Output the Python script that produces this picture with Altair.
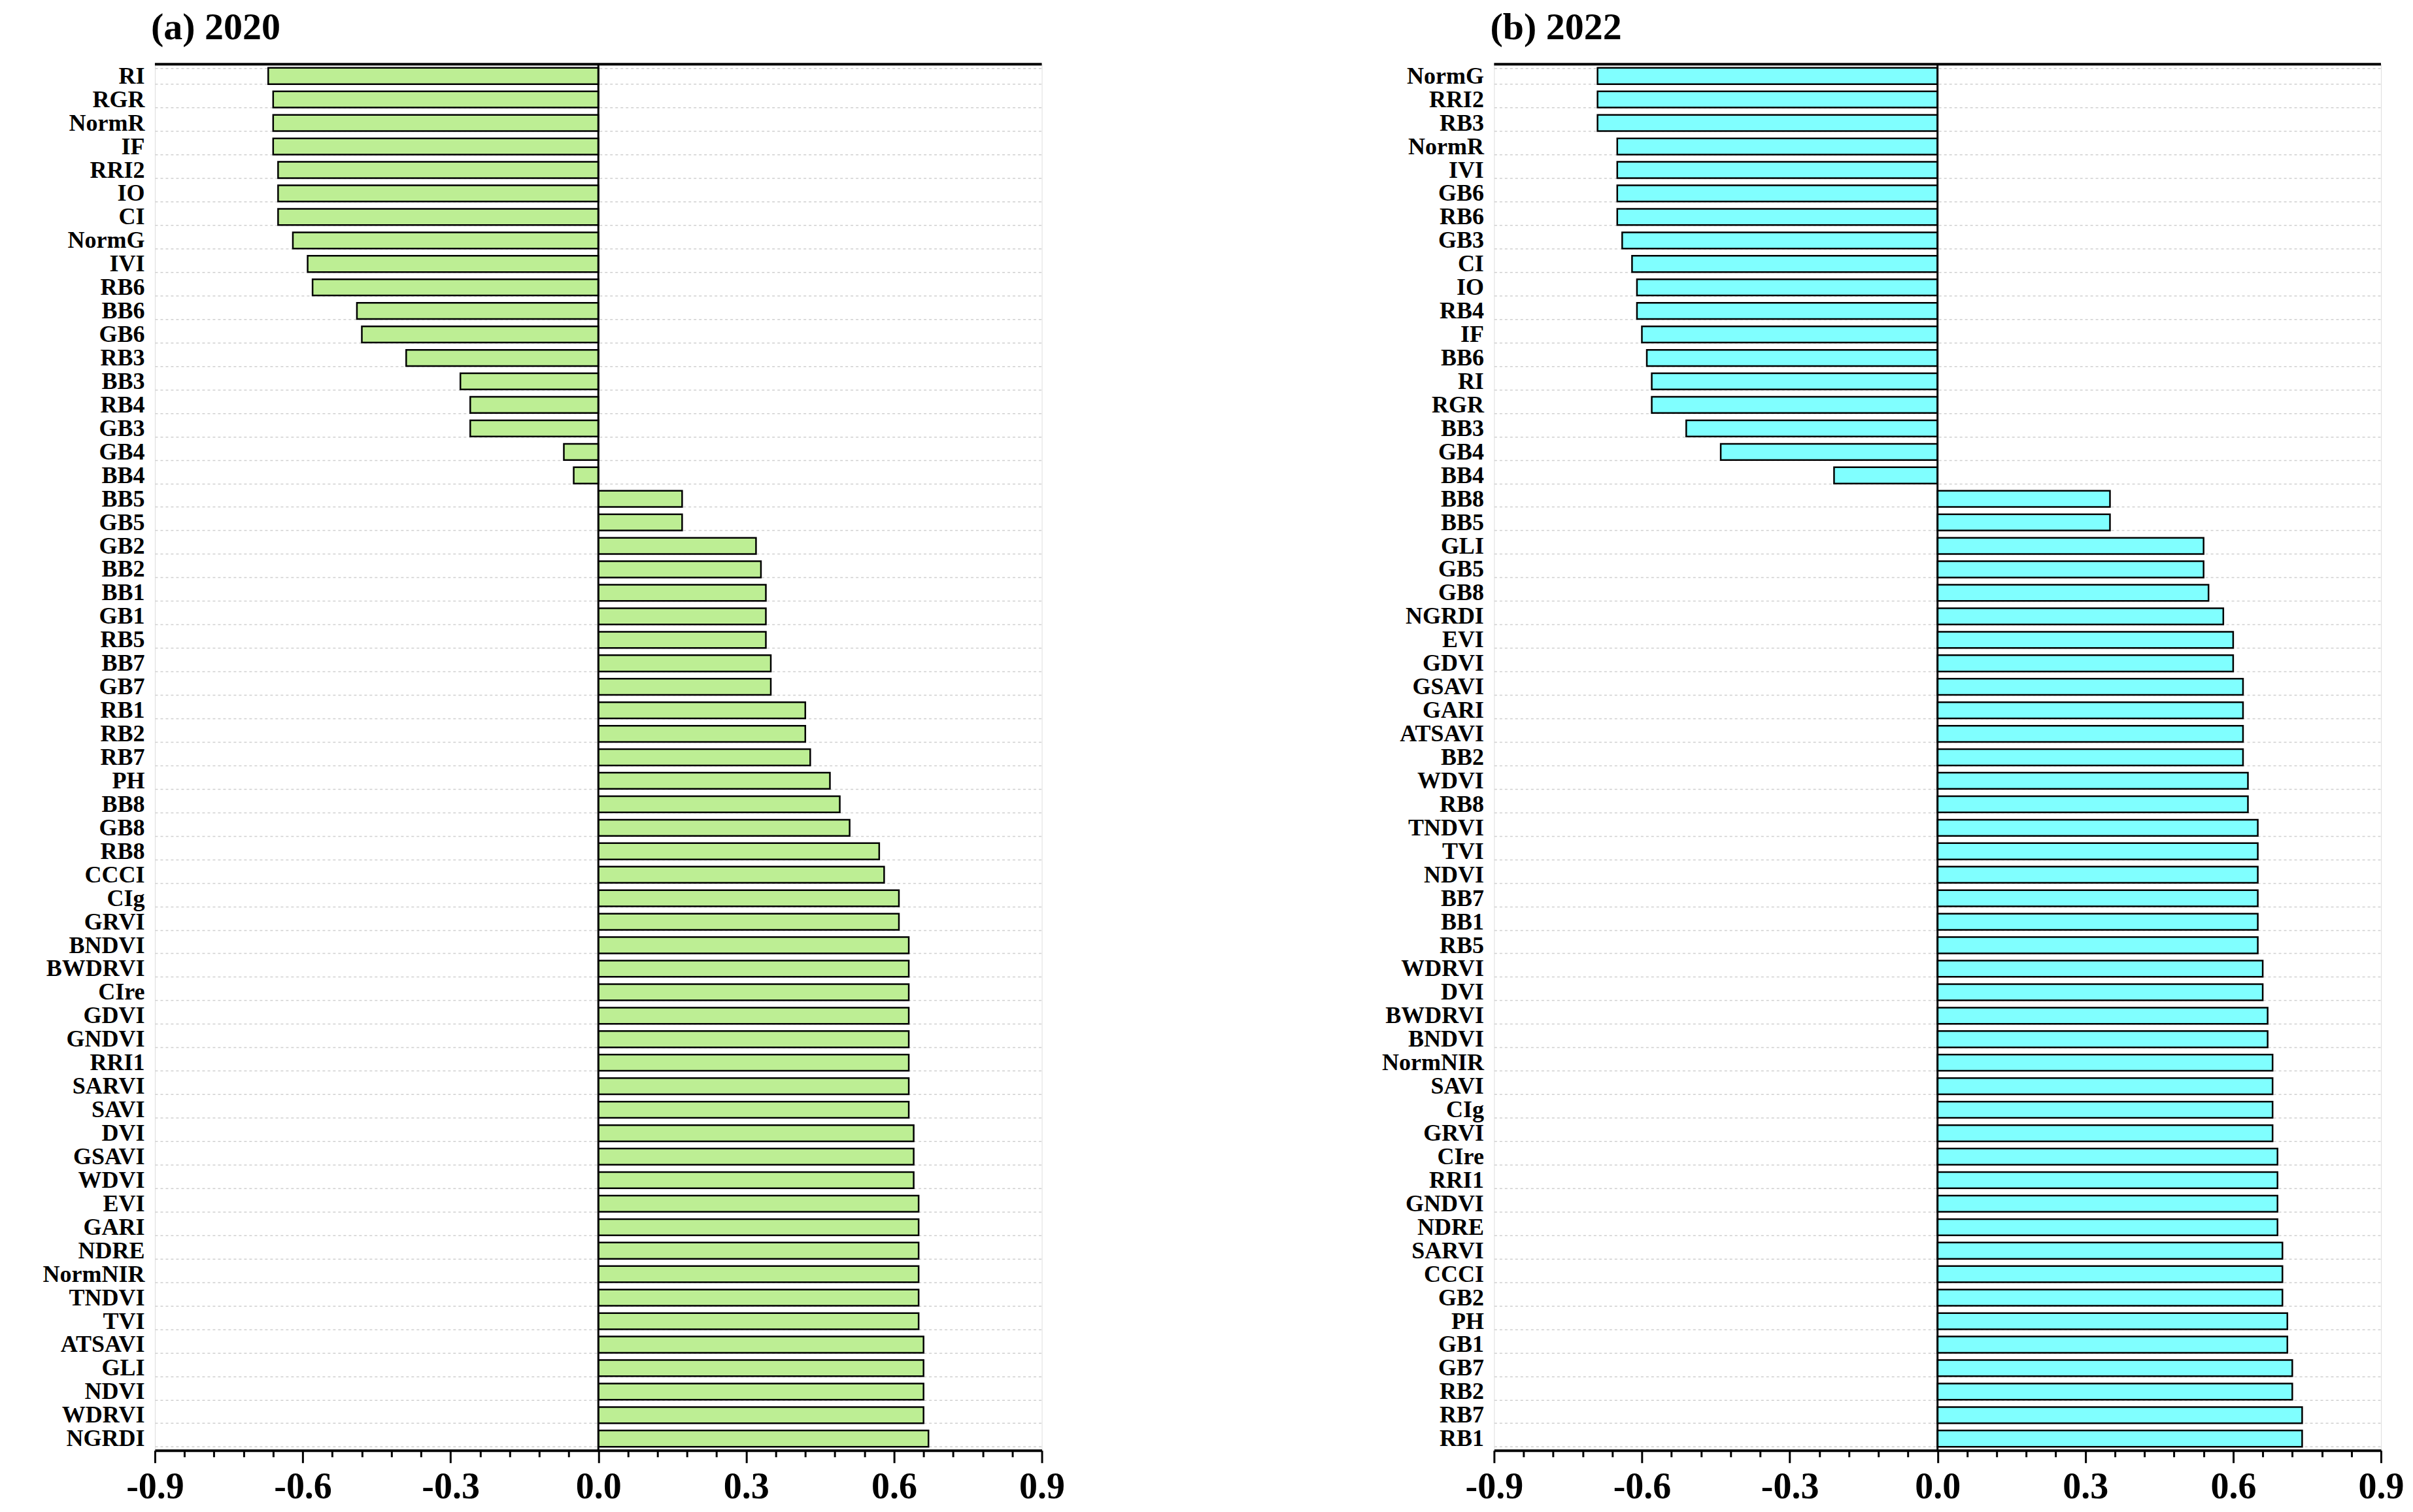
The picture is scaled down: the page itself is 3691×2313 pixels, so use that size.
import altair as alt
import pandas as pd

# ---- data (a) 2020 ----
names_2020 = ["RI", "RGR", "NormR", "IF", "RRI2", "IO", "CI", "NormG", "IVI", "RB6",
              "BB6", "GB6", "RB3", "BB3", "RB4", "GB3", "GB4", "BB4",
              "BB5", "GB5", "GB2", "BB2", "BB1", "GB1", "RB5", "BB7", "GB7", "RB1",
              "RB2", "RB7", "PH", "BB8", "GB8", "RB8", "CCCI", "CIg", "GRVI", "BNDVI",
              "BWDRVI", "CIre", "GDVI", "GNDVI", "RRI1", "SARVI", "SAVI", "DVI", "GSAVI", "WDVI",
              "EVI", "GARI", "NDRE", "NormNIR", "TNDVI", "TVI", "ATSAVI", "GLI", "NDVI", "WDRVI",
              "NGRDI"]
values_2020 = [-0.67, -0.66, -0.66, -0.66, -0.65, -0.65, -0.65, -0.62, -0.59, -0.58,
               -0.49, -0.48, -0.39, -0.28, -0.26, -0.26, -0.07, -0.05,
               0.17, 0.17, 0.32, 0.33, 0.34, 0.34, 0.34, 0.35, 0.35, 0.42,
               0.42, 0.43, 0.47, 0.49, 0.51, 0.57, 0.58, 0.61, 0.61, 0.63,
               0.63, 0.63, 0.63, 0.63, 0.63, 0.63, 0.63, 0.64, 0.64, 0.64,
               0.65, 0.65, 0.65, 0.65, 0.65, 0.65, 0.66, 0.66, 0.66, 0.66,
               0.67]

# ---- data (b) 2022 ----
names_2022 = ["NormG", "RRI2", "RB3", "NormR", "IVI", "GB6", "RB6", "GB3", "CI", "IO",
              "RB4", "IF", "BB6", "RI", "RGR", "BB3", "GB4", "BB4",
              "BB8", "BB5", "GLI", "GB5", "GB8", "NGRDI", "EVI", "GDVI", "GSAVI", "GARI",
              "ATSAVI", "BB2", "WDVI", "RB8", "TNDVI", "TVI", "NDVI", "BB7", "BB1", "RB5",
              "WDRVI", "DVI", "BWDRVI", "BNDVI", "NormNIR", "SAVI", "CIg", "GRVI", "CIre", "RRI1",
              "GNDVI", "NDRE", "SARVI", "CCCI", "GB2", "PH", "GB1", "GB7", "RB2", "RB7",
              "RB1"]
values_2022 = [-0.69, -0.69, -0.69, -0.65, -0.65, -0.65, -0.65, -0.64, -0.62, -0.61,
               -0.61, -0.60, -0.59, -0.58, -0.58, -0.51, -0.44, -0.21,
               0.35, 0.35, 0.54, 0.54, 0.55, 0.58, 0.60, 0.60, 0.62, 0.62,
               0.62, 0.62, 0.63, 0.63, 0.65, 0.65, 0.65, 0.65, 0.65, 0.65,
               0.66, 0.66, 0.67, 0.67, 0.68, 0.68, 0.68, 0.68, 0.69, 0.69,
               0.69, 0.69, 0.70, 0.70, 0.70, 0.71, 0.71, 0.72, 0.72, 0.74,
               0.74]

titles = ["(a) 2020", "(b) 2022"]
colors = ["#BDEE94", "#80FFFF"]

# axis tick positions (major every 0.3, minor every 0.06)
tick_values = [round(-0.9 + 0.06 * i, 2) for i in range(31)]

W = 1357
H = 2121
FONT = "Liberation Serif"

major_test = "abs(datum.value * 10 / 3 - round(datum.value * 10 / 3)) < 0.001"


def panel(names, values, title, color):
    df = pd.DataFrame({"name": names, "value": values})
    xscale = alt.Scale(domain=[-0.9, 0.9], nice=False, zero=False)
    base = alt.Chart(df)
    bars = base.mark_bar(color=color, stroke="black", strokeWidth=2.5).encode(
        y=alt.Y(
            "name:N",
            sort=names,
            title=None,
            scale=alt.Scale(paddingInner=0.31, paddingOuter=0.155),
            axis=alt.Axis(
                domain=False,
                ticks=False,
                tickBand="extent",
                grid=True,
                gridColor="#d0d0d0",
                gridDash=[4, 4],
                gridWidth=1.5,
                labelFont=FONT,
                labelFontWeight="bold",
                labelFontSize=36,
                labelColor="black",
                labelPadding=16,
                labelLimit=400,
                labelOverlap=False,
                minExtent=223,
                maxExtent=223,
            ),
        ),
        x=alt.X(
            "value:Q",
            title=None,
            scale=xscale,
            axis=alt.Axis(
                values=tick_values,
                grid=False,
                domainColor="black",
                domainWidth=4,
                tickColor="black",
                tickWidth=3,
                tickSize={"condition": {"test": major_test, "value": 19}, "value": 10},
                labelExpr="abs(datum.value * 10 / 3 - round(datum.value * 10 / 3)) < 0.001 ? "
                          "((datum.value < -0.0001 ? '-' : '') + format(abs(datum.value), '.1f')) : ''",
                labelFont=FONT,
                labelFontWeight="bold",
                labelFontSize=56,
                labelColor="black",
                labelPadding=10,
                labelOverlap=False,
                labelFlush=False,
            ),
        ),
    )
    zero_line = alt.Chart(pd.DataFrame({"z": [0.0]})).mark_rule(
        color="black", strokeWidth=3
    ).encode(x=alt.X("z:Q", scale=xscale))
    top_line = alt.Chart(pd.DataFrame({"z": [0.0]})).mark_rule(
        color="black", strokeWidth=4
    ).encode(x=alt.value(0), x2=alt.value(W), y=alt.value(0))
    return alt.layer(bars, zero_line, top_line).properties(
        width=W,
        height=H,
        title=alt.TitleParams(
            title,
            anchor="start",
            frame="group",
            font=FONT,
            fontWeight="bold",
            fontSize=58,
            color="black",
            offset=8,
            dx=-6,
        ),
    )


left = panel(names_2020, values_2020, titles[0], colors[0])
right = panel(names_2022, values_2022, titles[1], colors[1])

chart = alt.hconcat(left, right, spacing=692, bounds="flush").configure_view(
    stroke=None
).configure(background="white")

chart.save("out.html", embed_options={"renderer": "svg", "actions": False})
